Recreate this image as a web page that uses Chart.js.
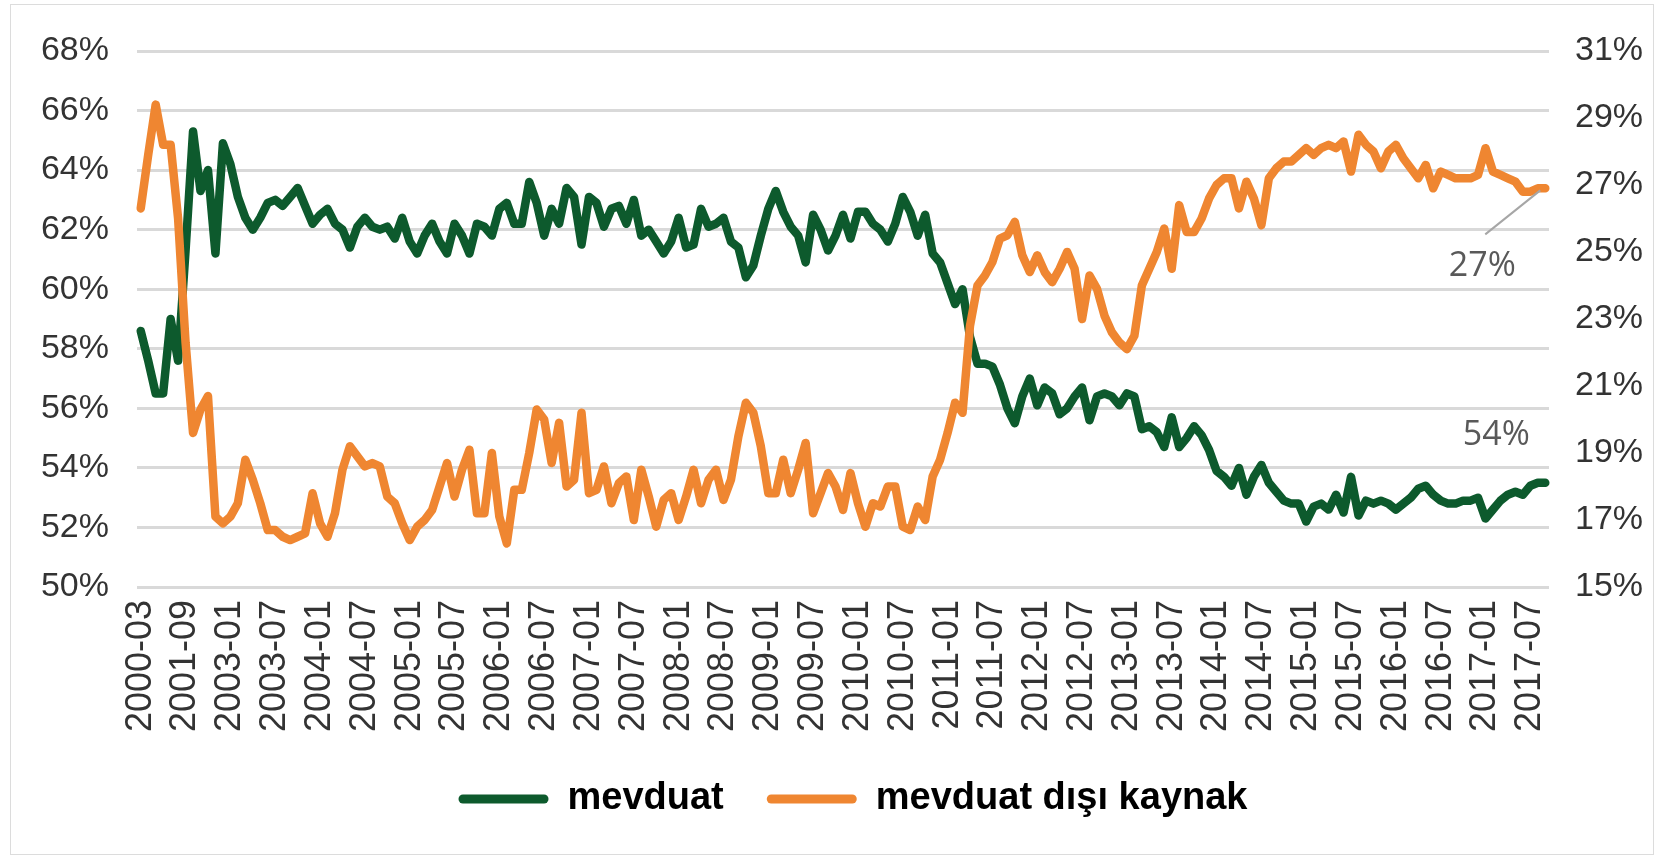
<!DOCTYPE html>
<html>
<head>
<meta charset="utf-8">
<script src="https://cdn.jsdelivr.net/npm/chart.js@4.4.1/dist/chart.umd.min.js"></script>
<style>
  html, body { margin: 0; padding: 0; background: #fff; }
  #wrap { position: relative; width: 1666px; height: 857px; overflow: hidden; }
  #frame { position: absolute; left: 10px; top: 4px; width: 1642px; height: 849px; border: 1px solid #dcdcdc; pointer-events: none; }
  canvas { position: absolute; left: 0; top: 0; }
</style>
</head>
<body>
<div id="wrap">
  <canvas id="lineChart" width="1666" height="857"></canvas>
  <div id="frame"></div>
</div>
<script>
// quarterly observations before 2003, monthly afterwards
const earlyDates = ['2000-03', '2000-06', '2000-09', '2000-12', '2001-03', '2001-06',
  '2001-09', '2001-12', '2002-03', '2002-06', '2002-09', '2002-12'];
const monthlyStart = [2003, 1];
const monthlyEnd = [2017, 9];

// mevduat (left axis, %)
const mevduat = [
  58.6, 57.6, 56.5, 56.5, 59.0, 57.6, 61.3, 65.3, 63.3, 64.0, 61.2, 64.9,
  64.2, 63.1, 62.4, 62.0, 62.4, 62.9, 63.0, 62.8, 63.1, 63.4, 62.8, 62.2,
  62.5, 62.7, 62.2, 62.0, 61.4, 62.1, 62.4, 62.1, 62.0, 62.1, 61.7, 62.4,
  61.6, 61.2, 61.8, 62.2, 61.6, 61.2, 62.2, 61.8, 61.2, 62.2, 62.1, 61.8,
  62.7, 62.9, 62.2, 62.2, 63.6, 62.9, 61.8, 62.7, 62.2, 63.4, 63.1, 61.5,
  63.1, 62.9, 62.1, 62.7, 62.8, 62.2, 63.0, 61.8, 62.0, 61.6, 61.2, 61.6,
  62.4, 61.4, 61.5, 62.7, 62.1, 62.2, 62.4, 61.6, 61.4, 60.4, 60.8, 61.8,
  62.7, 63.3, 62.6, 62.1, 61.8, 60.9, 62.5, 62.0, 61.3, 61.8, 62.5, 61.7,
  62.6, 62.6, 62.2, 62.0, 61.6, 62.2, 63.1, 62.6, 61.8, 62.5, 61.2, 60.9,
  60.2, 59.5, 60.0, 58.4, 57.5, 57.5, 57.4, 56.8, 56.0, 55.5, 56.4, 57.0,
  56.1, 56.7, 56.5, 55.8, 56.0, 56.4, 56.7, 55.6, 56.4, 56.5, 56.4, 56.1,
  56.5, 56.4, 55.3, 55.4, 55.2, 54.7, 55.7, 54.7, 55.0, 55.4, 55.1, 54.6,
  53.9, 53.7, 53.4, 54.0, 53.1, 53.7, 54.1, 53.5, 53.2, 52.9, 52.8, 52.8,
  52.2, 52.7, 52.8, 52.6, 53.1, 52.5, 53.7, 52.4, 52.9, 52.8, 52.9, 52.8,
  52.6, 52.8, 53.0, 53.3, 53.4, 53.1, 52.9, 52.8, 52.8, 52.9, 52.9, 53.0,
  52.3, 52.6, 52.9, 53.1, 53.2, 53.1, 53.4, 53.5, 53.5
];

// mevduat dışı kaynak (right axis, %)
const mevduatDisi = [
  26.3, 27.9, 29.4, 28.2, 28.2, 26.0, 22.3, 19.6, 20.3, 20.7, 17.1, 16.9,
  17.1, 17.5, 18.8, 18.2, 17.5, 16.7, 16.7, 16.5, 16.4, 16.5, 16.6, 17.8,
  16.9, 16.5, 17.2, 18.5, 19.2, 18.9, 18.6, 18.7, 18.6, 17.7, 17.5, 16.9,
  16.4, 16.8, 17.0, 17.3, 18.0, 18.7, 17.7, 18.5, 19.1, 17.2, 17.2, 19.0,
  17.1, 16.3, 17.9, 17.9, 19.0, 20.3, 20.0, 18.7, 19.9, 18.0, 18.2, 20.2,
  17.8, 17.9, 18.6, 17.5, 18.1, 18.3, 17.0, 18.5, 17.7, 16.8, 17.6, 17.8,
  17.0, 17.7, 18.5, 17.5, 18.2, 18.5, 17.6, 18.2, 19.5, 20.5, 20.2, 19.2,
  17.8, 17.8, 18.8, 17.8, 18.5, 19.3, 17.2, 17.8, 18.4, 18.0, 17.3, 18.4,
  17.5, 16.8, 17.5, 17.4, 18.0, 18.0, 16.8, 16.7, 17.4, 17.0, 18.3, 18.8,
  19.6, 20.5, 20.2, 22.8, 24.0, 24.3, 24.7, 25.4, 25.5, 25.9, 24.9, 24.4,
  24.9, 24.4, 24.1, 24.5, 25.0, 24.5, 23.0, 24.3, 23.9, 23.1, 22.6, 22.3,
  22.1, 22.5, 24.0, 24.5, 25.0, 25.7, 24.5, 26.4, 25.6, 25.6, 26.0, 26.6,
  27.0, 27.2, 27.2, 26.3, 27.1, 26.6, 25.8, 27.2, 27.5, 27.7, 27.7, 27.9,
  28.1, 27.9, 28.1, 28.2, 28.1, 28.3, 27.4, 28.5, 28.2, 28.0, 27.5, 28.0,
  28.2, 27.8, 27.5, 27.2, 27.6, 26.9, 27.4, 27.3, 27.2, 27.2, 27.2, 27.3,
  28.1, 27.4, 27.3, 27.2, 27.1, 26.8, 26.8, 26.9, 26.9
];

const leftTicks = [50, 52, 54, 56, 58, 60, 62, 64, 66, 68];
const rightTicks = [15, 17, 19, 21, 23, 25, 27, 29, 31];
const labelEvery = 6;

const green = '#0d5a2d';
const orange = '#ef8631';
const axisFont = '"Liberation Sans", Arial, sans-serif';

function buildCategories() {
  const out = earlyDates.slice();
  let [y, m] = monthlyStart;
  while (y < monthlyEnd[0] || (y === monthlyEnd[0] && m <= monthlyEnd[1])) {
    out.push(y + '-' + String(m).padStart(2, '0'));
    m++;
    if (m > 12) { m = 1; y++; }
  }
  return out;
}
const categories = buildCategories();

// last-value callouts ("54%", "27%")
const endLabels = {
  id: 'endLabels',
  afterDatasetsDraw(chart) {
    const ctx = chart.ctx;
    const g = chart.getDatasetMeta(0).data[mevduat.length - 1];
    const o = chart.getDatasetMeta(1).data[mevduatDisi.length - 1];
    ctx.save();
    ctx.font = '34px "Open Sans", sans-serif';
    ctx.fillStyle = '#595959';
    ctx.textAlign = 'center';
    ctx.textBaseline = 'middle';
    ctx.fillText(Math.round(mevduat[mevduat.length - 1]) + '%', g.x - 49, g.y - 47);
    ctx.strokeStyle = '#a6a6a6';
    ctx.lineWidth = 2;
    ctx.beginPath();
    ctx.moveTo(o.x - 5, o.y + 2);
    ctx.lineTo(o.x - 60, o.y + 46);
    ctx.stroke();
    ctx.fillText(Math.round(mevduatDisi[mevduatDisi.length - 1]) + '%', o.x - 63, o.y + 78);
    ctx.restore();
  }
};

new Chart(document.getElementById('lineChart'), {
  type: 'line',
  data: {
    labels: categories,
    datasets: [
      {
        label: 'mevduat',
        data: mevduat,
        yAxisID: 'y',
        borderColor: green,
        backgroundColor: green,
        borderWidth: 8.5,
        pointRadius: 0,
        tension: 0,
        borderJoinStyle: 'round',
        borderCapStyle: 'round',
        order: 2
      },
      {
        label: 'mevduat dışı kaynak',
        data: mevduatDisi,
        yAxisID: 'y1',
        borderColor: orange,
        backgroundColor: orange,
        borderWidth: 8.5,
        pointRadius: 0,
        tension: 0,
        borderJoinStyle: 'round',
        borderCapStyle: 'round',
        order: 1
      }
    ]
  },
  options: {
    responsive: false,
    animation: false,
    devicePixelRatio: 1,
    layout: { padding: { left: 40, right: 0, top: 51, bottom: 29 } },
    scales: {
      x: {
        offset: true,
        grid: { display: false },
        border: { display: false },
        afterFit: (s) => { s.height = 150; },
        ticks: {
          autoSkip: false,
          minRotation: 90,
          maxRotation: 90,
          padding: 5,
          color: '#333',
          font: { family: axisFont, size: 36 },
          callback: (v, i) => (i % labelEvery === 0 ? categories[i] : '')
        }
      },
      y: {
        position: 'left',
        min: leftTicks[0],
        max: leftTicks[leftTicks.length - 1],
        afterFit: (s) => { s.width = 97; },
        afterBuildTicks: (s) => { s.ticks = leftTicks.map(v => ({ value: v })); },
        grid: { color: '#d9d9d9', lineWidth: 3, drawTicks: false },
        border: { display: false },
        ticks: {
          padding: 28,
          color: '#333',
          font: { family: axisFont, size: 34 },
          callback: (v) => v + '%'
        }
      },
      y1: {
        position: 'right',
        min: rightTicks[0],
        max: rightTicks[rightTicks.length - 1],
        afterFit: (s) => { s.width = 117; },
        afterBuildTicks: (s) => { s.ticks = rightTicks.map(v => ({ value: v })); },
        grid: { display: false, drawTicks: false },
        border: { display: false },
        ticks: {
          padding: 26,
          color: '#333',
          font: { family: axisFont, size: 34 },
          callback: (v) => v + '%'
        }
      }
    },
    plugins: {
      tooltip: { enabled: false },
      legend: {
        position: 'bottom',
        labels: {
          boxWidth: 90,
          boxHeight: 9,
          padding: 43,
          useBorderRadius: true,
          borderRadius: 4.5,
          color: '#000',
          font: { family: axisFont, size: 38, weight: 'bold' },
          generateLabels: (chart) => {
            const items = Chart.defaults.plugins.legend.labels.generateLabels(chart);
            items.forEach(it => { it.lineWidth = 0; });
            return items.sort((a, b) => a.datasetIndex - b.datasetIndex);
          }
        }
      }
    }
  },
  plugins: [endLabels]
});
</script>
</body>
</html>
